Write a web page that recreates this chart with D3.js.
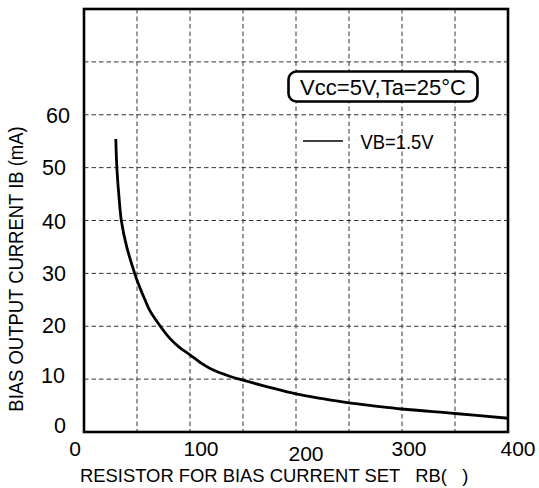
<!DOCTYPE html>
<html>
<head>
<meta charset="utf-8">
<script src="https://cdn.jsdelivr.net/npm/d3@7"></script>
<style>
  html, body { margin: 0; padding: 0; background: #fff; }
  svg { display: block; }
  text { font-family: "Liberation Sans", Arial, Helvetica, sans-serif; fill: #000; }
</style>
</head>
<body>
<svg id="chart" width="539" height="488"></svg>
<script>
// ---- data ----
const resistance = [30, 31, 33, 35.2, 40.3, 47.8, 50, 57.5, 62, 72, 81, 90, 100, 110, 119, 138, 150, 175, 200, 225, 250, 275, 300, 350, 400];
const current    = [55.4, 50, 44.5, 40, 35, 30, 28.7, 25, 23.0, 20, 17.7, 16.0, 14.6, 13.1, 12.0, 10.5, 9.8, 8.45, 7.2, 6.3, 5.5, 4.9, 4.35, 3.5, 2.6];
const xTicks = [0, 100, 200, 300, 400];
const yTicks = [0, 10, 20, 30, 40, 50, 60];
const xGrid = [50, 100, 150, 200, 250, 300, 350];
const yGrid = [10, 20, 30, 40, 50, 60, 70];
const xTitle = "RESISTOR FOR BIAS CURRENT SET   RB(   )";
const yTitle = "BIAS OUTPUT CURRENT IB (mA)";
const condition = "Vcc=5V,Ta=25°C";
const seriesName = "VB=1.5V";

// ---- layout ----
const svg = d3.select("#chart");
const x = d3.scaleLinear().domain([0, 400]).range([84, 508]);
const y = d3.scaleLinear().domain([0, 80]).range([432, 9]);

// grid
const grid = svg.append("g").attr("stroke", "#333").attr("stroke-width", 1).attr("stroke-dasharray", "4.5,3");
grid.selectAll("line.v").data(xGrid).join("line")
  .attr("x1", d => x(d)).attr("x2", d => x(d))
  .attr("y1", y(80)).attr("y2", y(0));
grid.selectAll("line.h").data(yGrid).join("line")
  .attr("y1", d => y(d)).attr("y2", d => y(d))
  .attr("x1", x(0)).attr("x2", x(400));

// curve
const line = d3.line().x((d, i) => x(resistance[i])).y((d, i) => y(current[i])).curve(d3.curveCatmullRom.alpha(0.5));
svg.append("path").datum(current)
  .attr("d", line)
  .attr("fill", "none").attr("stroke", "#000").attr("stroke-width", 2.8);

// frame
svg.append("rect")
  .attr("x", x(0)).attr("y", y(80))
  .attr("width", x(400) - x(0)).attr("height", y(0) - y(80))
  .attr("fill", "none").attr("stroke", "#000").attr("stroke-width", 2.6);

// x tick labels
const xNudge = {0: [-9, 0], 100: [11, 0], 200: [10, 5], 300: [7, 0], 400: [10, 0]};
svg.append("g").selectAll("text").data(xTicks).join("text")
  .attr("x", d => x(d) + xNudge[d][0])
  .attr("y", d => 455.5 + xNudge[d][1])
  .attr("text-anchor", "middle")
  .attr("font-size", 21)
  .text(d => d);

// y tick labels
const yNudge = {0: [0, -7], 10: [-1, -4], 20: [0, -1], 30: [0, 0], 40: [0, 0.5], 50: [0, 0], 60: [4, 0]};
svg.append("g").selectAll("text").data(yTicks).join("text")
  .attr("x", d => 66 + yNudge[d][0])
  .attr("y", d => y(d) + 7.8 + yNudge[d][1])
  .attr("text-anchor", "end")
  .attr("font-size", 21.5)
  .text(d => d);

// axis titles
svg.append("text")
  .attr("x", 80).attr("y", 481.5)
  .attr("font-size", 18.4)
  .style("white-space", "pre")
  .text(xTitle);
svg.append("text")
  .attr("transform", "translate(22.5,269) rotate(-90) scale(0.9,1)")
  .attr("text-anchor", "middle")
  .attr("font-size", 20.5)
  .text(yTitle);

// condition box
svg.append("rect")
  .attr("x", 288.5).attr("y", 71.5).attr("width", 189).attr("height", 30)
  .attr("rx", 8).attr("ry", 8)
  .attr("fill", "#fff").attr("stroke", "#000").attr("stroke-width", 2.6);
svg.append("text")
  .attr("x", 383).attr("y", 95)
  .attr("text-anchor", "middle")
  .attr("font-size", 22)
  .text(condition);

// legend
svg.append("line")
  .attr("x1", 303).attr("x2", 343).attr("y1", 141).attr("y2", 141)
  .attr("stroke", "#000").attr("stroke-width", 1.5);
svg.append("text")
  .attr("transform", "translate(360.5,149.3) scale(0.92,1)")
  .attr("font-size", 20)
  .text(seriesName);
</script>
</body>
</html>
